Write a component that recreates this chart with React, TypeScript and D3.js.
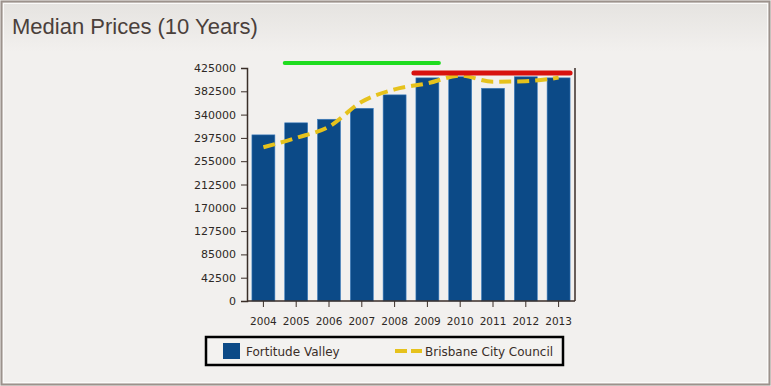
import { useEffect, useRef } from 'react';
import * as d3 from 'd3';

const years = ['2004', '2005', '2006', '2007', '2008', '2009', '2010', '2011', '2012', '2013'];
const valleyPrices = [303000, 325000, 331500, 351500, 376000, 407000, 409000, 388000, 409000, 407000];
const councilPrices = [280500, 297500, 318000, 363500, 386000, 397000, 411000, 400000, 401000, 407500];
const yTicks = [0, 42500, 85000, 127500, 170000, 212500, 255000, 297500, 340000, 382500, 425000];

// highlight bars drawn above the plot: [fromYear, toYear, level]
const greenSpan = ['2005', '2009'];
const greenLevel = 434000;
const redSpan = ['2009', '2013'];
const redLevel = 416000;

export default function App() {
  const containerRef = useRef<HTMLDivElement>(null);

  useEffect(() => {
    if (!containerRef.current) return;
    d3.select(containerRef.current).selectAll('*').remove();

    const width = 771;
    const height = 386;
    const margin = { top: 68, left: 247, right: 196, bottom: 85 };
    const innerWidth = width - margin.left - margin.right;
    const innerHeight = height - margin.top - margin.bottom;

    const svg = d3
      .select(containerRef.current)
      .append('svg')
      .attr('width', width)
      .attr('height', height)
      .style('position', 'absolute')
      .style('left', '0px')
      .style('top', '0px');

    // Panel background
    const grad = svg.append('defs').append('linearGradient').attr('id', 'hdr').attr('x1', 0).attr('x2', 0).attr('y1', 0).attr('y2', 1);
    grad.append('stop').attr('offset', '0%').attr('stop-color', '#e5e3e0');
    grad.append('stop').attr('offset', '100%').attr('stop-color', '#f2f0ee');

    svg.append('rect').attr('width', width).attr('height', height).attr('fill', '#f2f0ee');
    svg.append('rect').attr('x', 2).attr('y', 2).attr('width', width - 4).attr('height', 50).attr('fill', 'url(#hdr)');
    svg.append('rect')
      .attr('x', 1.5).attr('y', 1.5).attr('width', width - 3).attr('height', height - 3)
      .attr('fill', 'none').attr('stroke', '#9c928c').attr('stroke-width', 2);
    svg.append('rect')
      .attr('x', 3.5).attr('y', 3.5).attr('width', width - 7).attr('height', height - 7)
      .attr('fill', 'none').attr('stroke', '#fbfaf9').attr('stroke-width', 1);

    svg.append('text')
      .attr('x', 12).attr('y', 34)
      .attr('font-family', 'Liberation Sans, Arial, sans-serif')
      .attr('font-size', '22px')
      .attr('fill', '#4a403b')
      .text('Median Prices (10 Years)');

    const g = svg.append('g').attr('transform', `translate(${margin.left},${margin.top})`);

    const x = d3.scaleBand<string>().domain(years).range([0, innerWidth]).paddingInner(0.3).paddingOuter(0.15);
    const y = d3.scaleLinear().domain([0, 425000]).range([innerHeight, 0]);

    // Bars
    g.selectAll('rect.bar')
      .data(years)
      .join('rect')
      .attr('class', 'bar')
      .attr('x', (d) => x(d)!)
      .attr('y', (d, i) => y(valleyPrices[i]))
      .attr('width', x.bandwidth())
      .attr('height', (d, i) => innerHeight - y(valleyPrices[i]))
      .attr('fill', '#0c4a87')
      .attr('stroke', '#3f7fbf')
      .attr('stroke-width', 0.6);

    // Axes
    const yAxis = g.append('g').call(
      d3.axisLeft(y).tickValues(yTicks).tickSize(6).tickPadding(5).tickFormat((d) => String(d))
    );
    const xAxis = g.append('g').attr('transform', `translate(0,${innerHeight})`).call(
      d3.axisBottom(x).tickSize(6).tickPadding(11)
    );
    [yAxis, xAxis].forEach((ax) => {
      ax.select('.domain').attr('stroke', '#3a2e28').attr('stroke-width', 1.5);
      ax.selectAll('.tick line').attr('stroke', '#3a2e28');
      ax.selectAll('text').attr('font-family', 'DejaVu Sans, sans-serif').attr('fill', '#2e2824');
    });
    yAxis.selectAll('text').attr('font-size', '11px');
    xAxis.selectAll('text').attr('font-size', '10.5px');
    xAxis.select('.domain').attr('d', `M0,0H${innerWidth}`);

    // right frame line
    g.append('line')
      .attr('x1', innerWidth).attr('x2', innerWidth).attr('y1', 0).attr('y2', innerHeight)
      .attr('stroke', '#3a2e28').attr('stroke-width', 1.5);

    // Council line
    const cx = (d: string) => x(d)! + x.bandwidth() / 2;
    const line = d3
      .line<number>()
      .x((d, i) => cx(years[i]))
      .y((d) => y(d))
      .curve(d3.curveMonotoneX);
    g.append('path')
      .datum(councilPrices)
      .attr('d', line)
      .attr('fill', 'none')
      .attr('stroke', '#e6c21c')
      .attr('stroke-width', 4)
      .attr('stroke-dasharray', '12,6');

    // Highlight spans
    g.append('line')
      .attr('x1', x(greenSpan[0])!).attr('x2', x(greenSpan[1])! + x.bandwidth())
      .attr('y1', y(greenLevel)).attr('y2', y(greenLevel))
      .attr('stroke', '#1fdc1f').attr('stroke-width', 4).attr('stroke-linecap', 'round');
    g.append('line')
      .attr('x1', x(redSpan[0])! - 2).attr('x2', x(redSpan[1])! + x.bandwidth())
      .attr('y1', y(redLevel)).attr('y2', y(redLevel))
      .attr('stroke', '#d8120f').attr('stroke-width', 5).attr('stroke-linecap', 'round');

    // Legend
    const legend = svg.append('g');
    legend.append('rect')
      .attr('x', 206).attr('y', 337).attr('width', 357).attr('height', 28)
      .attr('fill', '#f3f2f0').attr('stroke', '#000').attr('stroke-width', 2.5);
    legend.append('rect').attr('x', 223).attr('y', 343).attr('width', 17).attr('height', 16).attr('fill', '#0c4a87');
    legend.append('text')
      .attr('x', 246).attr('y', 356)
      .attr('font-family', 'DejaVu Sans, sans-serif').attr('font-size', '12px').attr('fill', '#3a2e28')
      .text('Fortitude Valley');
    legend.append('line')
      .attr('x1', 395).attr('x2', 422).attr('y1', 351).attr('y2', 351)
      .attr('stroke', '#e6c21c').attr('stroke-width', 4).attr('stroke-dasharray', '12,4');
    legend.append('text')
      .attr('x', 425).attr('y', 356)
      .attr('font-family', 'DejaVu Sans, sans-serif').attr('font-size', '12px').attr('fill', '#3a2e28')
      .text('Brisbane City Council');
  }, []);

  return <div ref={containerRef} style={{ width: 771, height: 386 }}></div>;
}
